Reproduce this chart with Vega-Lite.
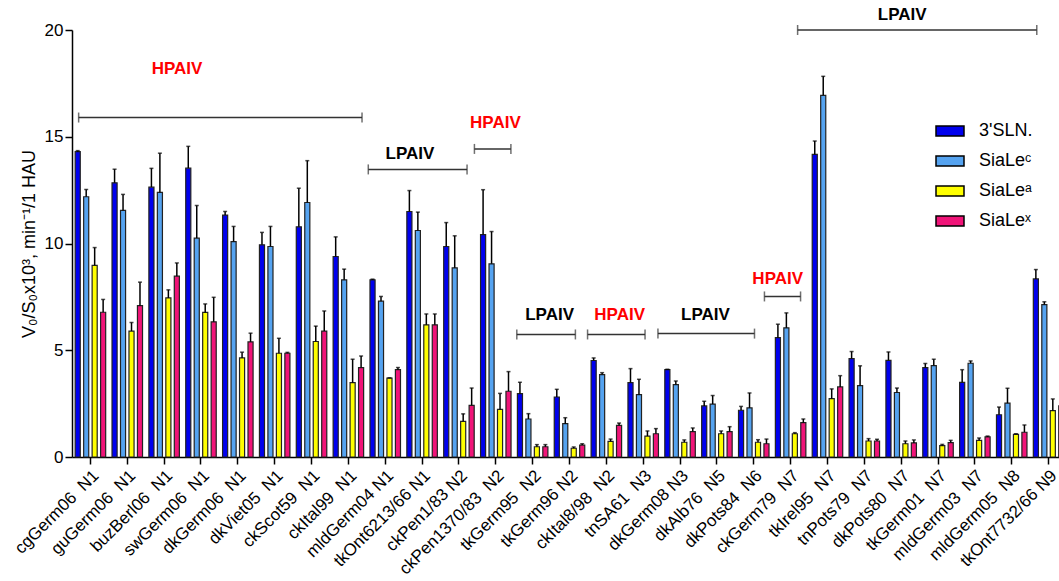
{
  "$schema": "https://vega.github.io/schema/vega-lite/v6.json",
  "width": 987,
  "height": 427,
  "autosize": {"type": "none"},
  "padding": {"left": 72, "top": 30, "right": 0, "bottom": 124},
  "config": {"view": {"stroke": null}, "font": "Liberation Sans"},
  "datasets": {
    "bars": [
      {"s": "cgGerm06\u00a0 N1", "g": "3'SLN.", "v": 14.3, "u": 14.35},
      {"s": "cgGerm06\u00a0 N1", "g": "SiaLeᶜ", "v": 12.19, "u": 12.53},
      {"s": "cgGerm06\u00a0 N1", "g": "SiaLeᵃ", "v": 8.98, "u": 9.81},
      {"s": "cgGerm06\u00a0 N1", "g": "SiaLeˣ", "v": 6.78, "u": 7.38},
      {"s": "guGerm06\u00a0 N1", "g": "3'SLN.", "v": 12.84, "u": 13.48},
      {"s": "guGerm06\u00a0 N1", "g": "SiaLeᶜ", "v": 11.55, "u": 12.3},
      {"s": "guGerm06\u00a0 N1", "g": "SiaLeᵃ", "v": 5.9, "u": 6.3},
      {"s": "guGerm06\u00a0 N1", "g": "SiaLeˣ", "v": 7.09, "u": 8.19},
      {"s": "buzBerl06\u00a0 N1", "g": "3'SLN.", "v": 12.64, "u": 13.52},
      {"s": "buzBerl06\u00a0 N1", "g": "SiaLeᶜ", "v": 12.39, "u": 14.23},
      {"s": "buzBerl06\u00a0 N1", "g": "SiaLeᵃ", "v": 7.45, "u": 7.83},
      {"s": "buzBerl06\u00a0 N1", "g": "SiaLeˣ", "v": 8.47, "u": 9.09},
      {"s": "swGerm06\u00a0 N1", "g": "3'SLN.", "v": 13.53, "u": 14.55},
      {"s": "swGerm06\u00a0 N1", "g": "SiaLeᶜ", "v": 10.25, "u": 11.78},
      {"s": "swGerm06\u00a0 N1", "g": "SiaLeᵃ", "v": 6.77, "u": 7.17},
      {"s": "swGerm06\u00a0 N1", "g": "SiaLeˣ", "v": 6.33, "u": 7.48},
      {"s": "dkGerm06\u00a0 N1", "g": "3'SLN.", "v": 11.33, "u": 11.5},
      {"s": "dkGerm06\u00a0 N1", "g": "SiaLeᶜ", "v": 10.09, "u": 10.8},
      {"s": "dkGerm06\u00a0 N1", "g": "SiaLeᵃ", "v": 4.64, "u": 4.91},
      {"s": "dkGerm06\u00a0 N1", "g": "SiaLeˣ", "v": 5.39, "u": 5.8},
      {"s": "dkViet05\u00a0 N1", "g": "3'SLN.", "v": 9.94, "u": 10.52},
      {"s": "dkViet05\u00a0 N1", "g": "SiaLeᶜ", "v": 9.86, "u": 10.8},
      {"s": "dkViet05\u00a0 N1", "g": "SiaLeᵃ", "v": 4.86, "u": 5.56},
      {"s": "dkViet05\u00a0 N1", "g": "SiaLeˣ", "v": 4.86, "u": 4.9},
      {"s": "ckScot59\u00a0 N1", "g": "3'SLN.", "v": 10.78, "u": 12.59},
      {"s": "ckScot59\u00a0 N1", "g": "SiaLeᶜ", "v": 11.92, "u": 13.88},
      {"s": "ckScot59\u00a0 N1", "g": "SiaLeᵃ", "v": 5.41, "u": 6.13},
      {"s": "ckScot59\u00a0 N1", "g": "SiaLeˣ", "v": 5.9, "u": 6.84},
      {"s": "ckItal99\u00a0 N1", "g": "3'SLN.", "v": 9.39, "u": 10.31},
      {"s": "ckItal99\u00a0 N1", "g": "SiaLeᶜ", "v": 8.3, "u": 8.8},
      {"s": "ckItal99\u00a0 N1", "g": "SiaLeᵃ", "v": 3.48, "u": 4.58},
      {"s": "ckItal99\u00a0 N1", "g": "SiaLeˣ", "v": 4.19, "u": 4.73},
      {"s": "mldGerm04 N1", "g": "3'SLN.", "v": 8.3, "u": 8.33},
      {"s": "mldGerm04 N1", "g": "SiaLeᶜ", "v": 7.3, "u": 7.52},
      {"s": "mldGerm04 N1", "g": "SiaLeᵃ", "v": 3.69, "u": 3.71},
      {"s": "mldGerm04 N1", "g": "SiaLeˣ", "v": 4.09, "u": 4.19},
      {"s": "tkOnt6213/66 N1", "g": "3'SLN.", "v": 11.5, "u": 12.48},
      {"s": "tkOnt6213/66 N1", "g": "SiaLeᶜ", "v": 10.61, "u": 11.47},
      {"s": "tkOnt6213/66 N1", "g": "SiaLeᵃ", "v": 6.19, "u": 6.7},
      {"s": "tkOnt6213/66 N1", "g": "SiaLeˣ", "v": 6.19, "u": 6.7},
      {"s": "ckPen1/83 N2", "g": "3'SLN.", "v": 9.86, "u": 10.98},
      {"s": "ckPen1/83 N2", "g": "SiaLeᶜ", "v": 8.86, "u": 10.36},
      {"s": "ckPen1/83 N2", "g": "SiaLeᵃ", "v": 1.67, "u": 2.02},
      {"s": "ckPen1/83 N2", "g": "SiaLeˣ", "v": 2.42, "u": 3.23},
      {"s": "ckPen1370/83\u00a0 N2", "g": "3'SLN.", "v": 10.42, "u": 12.52},
      {"s": "ckPen1370/83\u00a0 N2", "g": "SiaLeᶜ", "v": 9.05, "u": 10.56},
      {"s": "ckPen1370/83\u00a0 N2", "g": "SiaLeᵃ", "v": 2.23, "u": 2.98},
      {"s": "ckPen1370/83\u00a0 N2", "g": "SiaLeˣ", "v": 3.08, "u": 4.0},
      {"s": "tkGerm95\u00a0 N2", "g": "3'SLN.", "v": 2.97, "u": 3.5},
      {"s": "tkGerm95\u00a0 N2", "g": "SiaLeᶜ", "v": 1.78, "u": 2.03},
      {"s": "tkGerm95\u00a0 N2", "g": "SiaLeᵃ", "v": 0.48, "u": 0.58},
      {"s": "tkGerm95\u00a0 N2", "g": "SiaLeˣ", "v": 0.48, "u": 0.58},
      {"s": "tkGerm96 N2", "g": "3'SLN.", "v": 2.81, "u": 3.17},
      {"s": "tkGerm96 N2", "g": "SiaLeᶜ", "v": 1.56, "u": 1.84},
      {"s": "tkGerm96 N2", "g": "SiaLeᵃ", "v": 0.41, "u": 0.47},
      {"s": "tkGerm96 N2", "g": "SiaLeˣ", "v": 0.56, "u": 0.62},
      {"s": "ckItal8/98\u00a0 N2", "g": "3'SLN.", "v": 4.52, "u": 4.64},
      {"s": "ckItal8/98\u00a0 N2", "g": "SiaLeᶜ", "v": 3.86, "u": 3.95},
      {"s": "ckItal8/98\u00a0 N2", "g": "SiaLeᵃ", "v": 0.73, "u": 0.84},
      {"s": "ckItal8/98\u00a0 N2", "g": "SiaLeˣ", "v": 1.48, "u": 1.59},
      {"s": "tnSA61\u00a0 N3", "g": "3'SLN.", "v": 3.48, "u": 4.14},
      {"s": "tnSA61\u00a0 N3", "g": "SiaLeᶜ", "v": 2.92, "u": 3.64},
      {"s": "tnSA61\u00a0 N3", "g": "SiaLeᵃ", "v": 0.98, "u": 1.22},
      {"s": "tnSA61\u00a0 N3", "g": "SiaLeˣ", "v": 1.09, "u": 1.33},
      {"s": "dkGerm08 N3", "g": "3'SLN.", "v": 4.09, "u": 4.11},
      {"s": "dkGerm08 N3", "g": "SiaLeᶜ", "v": 3.39, "u": 3.56},
      {"s": "dkGerm08 N3", "g": "SiaLeᵃ", "v": 0.69, "u": 0.8},
      {"s": "dkGerm08 N3", "g": "SiaLeˣ", "v": 1.19, "u": 1.36},
      {"s": "dkAlb76\u00a0 N5", "g": "3'SLN.", "v": 2.39, "u": 2.61},
      {"s": "dkAlb76\u00a0 N5", "g": "SiaLeᶜ", "v": 2.48, "u": 2.88},
      {"s": "dkAlb76\u00a0 N5", "g": "SiaLeᵃ", "v": 1.09, "u": 1.22},
      {"s": "dkAlb76\u00a0 N5", "g": "SiaLeˣ", "v": 1.19, "u": 1.42},
      {"s": "dkPots84\u00a0 N6", "g": "3'SLN.", "v": 2.19, "u": 2.37},
      {"s": "dkPots84\u00a0 N6", "g": "SiaLeᶜ", "v": 2.3, "u": 3.0},
      {"s": "dkPots84\u00a0 N6", "g": "SiaLeᵃ", "v": 0.69, "u": 0.81},
      {"s": "dkPots84\u00a0 N6", "g": "SiaLeˣ", "v": 0.62, "u": 0.84},
      {"s": "ckGerm79\u00a0 N7", "g": "3'SLN.", "v": 5.59, "u": 6.22},
      {"s": "ckGerm79\u00a0 N7", "g": "SiaLeᶜ", "v": 6.05, "u": 6.75},
      {"s": "ckGerm79\u00a0 N7", "g": "SiaLeᵃ", "v": 1.09, "u": 1.14},
      {"s": "ckGerm79\u00a0 N7", "g": "SiaLeˣ", "v": 1.61, "u": 1.78},
      {"s": "tkIrel95\u00a0 N7", "g": "3'SLN.", "v": 14.17, "u": 14.8},
      {"s": "tkIrel95\u00a0 N7", "g": "SiaLeᶜ", "v": 16.94, "u": 17.83},
      {"s": "tkIrel95\u00a0 N7", "g": "SiaLeᵃ", "v": 2.73, "u": 3.19},
      {"s": "tkIrel95\u00a0 N7", "g": "SiaLeˣ", "v": 3.28, "u": 3.81},
      {"s": "tnPots79\u00a0 N7", "g": "3'SLN.", "v": 4.61, "u": 4.94},
      {"s": "tnPots79\u00a0 N7", "g": "SiaLeᶜ", "v": 3.34, "u": 4.27},
      {"s": "tnPots79\u00a0 N7", "g": "SiaLeᵃ", "v": 0.75, "u": 0.86},
      {"s": "tnPots79\u00a0 N7", "g": "SiaLeˣ", "v": 0.75, "u": 0.83},
      {"s": "dkPots80\u00a0 N7", "g": "3'SLN.", "v": 4.53, "u": 4.92},
      {"s": "dkPots80\u00a0 N7", "g": "SiaLeᶜ", "v": 3.02, "u": 3.23},
      {"s": "dkPots80\u00a0 N7", "g": "SiaLeᵃ", "v": 0.62, "u": 0.75},
      {"s": "dkPots80\u00a0 N7", "g": "SiaLeˣ", "v": 0.66, "u": 0.8},
      {"s": "tkGerm01\u00a0 N7", "g": "3'SLN.", "v": 4.19, "u": 4.38},
      {"s": "tkGerm01\u00a0 N7", "g": "SiaLeᶜ", "v": 4.28, "u": 4.58},
      {"s": "tkGerm01\u00a0 N7", "g": "SiaLeᵃ", "v": 0.53, "u": 0.59},
      {"s": "tkGerm01\u00a0 N7", "g": "SiaLeˣ", "v": 0.67, "u": 0.78},
      {"s": "mldGerm03\u00a0 N7", "g": "3'SLN.", "v": 3.5, "u": 4.09},
      {"s": "mldGerm03\u00a0 N7", "g": "SiaLeᶜ", "v": 4.39, "u": 4.5},
      {"s": "mldGerm03\u00a0 N7", "g": "SiaLeᵃ", "v": 0.78, "u": 0.89},
      {"s": "mldGerm03\u00a0 N7", "g": "SiaLeˣ", "v": 0.94, "u": 0.98},
      {"s": "mldGerm05\u00a0 N8", "g": "3'SLN.", "v": 1.98, "u": 2.34},
      {"s": "mldGerm05\u00a0 N8", "g": "SiaLeᶜ", "v": 2.52, "u": 3.22},
      {"s": "mldGerm05\u00a0 N8", "g": "SiaLeᵃ", "v": 1.06, "u": 1.09},
      {"s": "mldGerm05\u00a0 N8", "g": "SiaLeˣ", "v": 1.16, "u": 1.5},
      {"s": "tkOnt7732/66 N9", "g": "3'SLN.", "v": 8.34, "u": 8.78},
      {"s": "tkOnt7732/66 N9", "g": "SiaLeᶜ", "v": 7.14, "u": 7.27},
      {"s": "tkOnt7732/66 N9", "g": "SiaLeᵃ", "v": 2.17, "u": 2.72},
      {"s": "tkOnt7732/66 N9", "g": "SiaLeˣ", "v": 2.4, "u": 2.99}
    ],
    "brackets": [
      {"lab": "HPAIV", "x1": -0.32, "x2": 7.37, "y": 15.9, "tx": 2.35, "ty": 18.16},
      {"lab": "LPAIV", "x1": 7.54, "x2": 10.22, "y": 13.47, "tx": 8.67, "ty": 14.18},
      {"lab": "HPAIV", "x1": 10.42, "x2": 11.41, "y": 14.43, "tx": 10.99, "ty": 15.64},
      {"lab": "LPAIV", "x1": 11.57, "x2": 13.16, "y": 5.74, "tx": 12.46, "ty": 6.64},
      {"lab": "HPAIV", "x1": 13.49, "x2": 15.05, "y": 5.74, "tx": 14.36, "ty": 6.67},
      {"lab": "LPAIV", "x1": 15.4, "x2": 18.02, "y": 5.78, "tx": 16.69, "ty": 6.67},
      {"lab": "HPAIV", "x1": 18.29, "x2": 19.27, "y": 7.52, "tx": 18.65, "ty": 8.36},
      {"lab": "LPAIV", "x1": 19.19, "x2": 25.68, "y": 20.0, "tx": 22.03, "ty": 20.72}
    ]
  },
  "layer": [
    {
      "data": {"name": "bars"},
      "encoding": {
        "x": {
          "field": "s", "type": "nominal", "sort": null,
          "scale": {"range": [0, 995], "paddingInner": 0, "paddingOuter": 0},
          "axis": {"title": null, "labelAngle": -45, "labelFontSize": 17, "labelColor": "black", "tickSize": 7, "tickWidth": 1.5, "tickColor": "black", "domainWidth": 1.5, "domainColor": "black", "labelPadding": 3}
        },
        "xOffset": {
          "field": "g", "type": "nominal",
          "scale": {"domain": ["3'SLN.", "SiaLeᶜ", "SiaLeᵃ", "SiaLeˣ"], "paddingInner": 0.4, "paddingOuter": 0.375}
        }
      },
      "layer": [
        {
          "mark": {"type": "bar", "stroke": "#222222", "strokeWidth": 1.2},
          "encoding": {
            "y": {
              "field": "v", "type": "quantitative",
              "scale": {"domain": [0, 20], "nice": false},
              "title": "V₀/S₀x10³, min⁻¹/1 HAU",
              "axis": {"values": [0, 5, 10, 15, 20], "grid": false, "tickSize": 7, "tickWidth": 1.5, "tickColor": "black", "domainWidth": 1.5, "domainColor": "black", "labelFontSize": 17, "labelColor": "black", "titleFontSize": 18, "titleFontWeight": "normal", "titleColor": "black", "titlePadding": 6}
            },
            "color": {
              "field": "g", "type": "nominal",
              "scale": {"domain": ["3'SLN.", "SiaLeᶜ", "SiaLeᵃ", "SiaLeˣ"], "range": ["#0000EE", "#55A3F0", "#FFFF00", "#F01478"]},
              "legend": {"orient": "none", "legendX": 863, "legendY": 86, "title": null, "symbolType": "M-1,-0.36H1V0.36H-1Z", "symbolSize": 784, "symbolStrokeColor": "black", "symbolStrokeWidth": 1.5, "symbolOpacity": 1, "labelFontSize": 18, "labelColor": "black", "labelOffset": 14, "rowPadding": 6, "padding": 0}
            }
          }
        },
        {
          "mark": {"type": "rule", "color": "black", "strokeWidth": 1.5},
          "encoding": {
            "y": {"field": "v", "type": "quantitative", "title": "V₀/S₀x10³, min⁻¹/1 HAU"},
            "y2": {"field": "u"}
          }
        },
        {
          "mark": {"type": "tick", "orient": "horizontal", "color": "black", "size": 4, "thickness": 1.5},
          "encoding": {
            "y": {"field": "u", "type": "quantitative", "title": "V₀/S₀x10³, min⁻¹/1 HAU"}
          }
        }
      ]
    },
    {
      "data": {"name": "brackets"},
      "layer": [
        {
          "mark": {"type": "rule", "color": "#333333", "strokeWidth": 1.5},
          "encoding": {
            "x": {"field": "x1", "type": "quantitative", "scale": {"domain": [-0.5, 26.5], "range": [0, 995], "nice": false, "zero": false}, "axis": null},
            "x2": {"field": "x2"},
            "y": {"field": "y", "type": "quantitative", "title": "V₀/S₀x10³, min⁻¹/1 HAU"}
          }
        },
        {
          "transform": [{"fold": ["x1", "x2"], "as": ["end", "xe"]}],
          "mark": {"type": "tick", "orient": "vertical", "color": "#333333", "size": 10, "thickness": 1.5},
          "encoding": {
            "x": {"field": "xe", "type": "quantitative", "axis": null},
            "y": {"field": "y", "type": "quantitative", "title": "V₀/S₀x10³, min⁻¹/1 HAU"}
          }
        },
        {
          "mark": {"type": "text", "fontSize": 17, "fontWeight": "bold", "baseline": "middle", "align": "center"},
          "encoding": {
            "x": {"field": "tx", "type": "quantitative", "axis": null},
            "y": {"field": "ty", "type": "quantitative", "title": "V₀/S₀x10³, min⁻¹/1 HAU"},
            "text": {"field": "lab"},
            "color": {"condition": {"test": "datum.lab === 'HPAIV'", "value": "#FF0000"}, "value": "black"}
          }
        }
      ]
    }
  ],
  "resolve": {"scale": {"x": "independent"}}
}
